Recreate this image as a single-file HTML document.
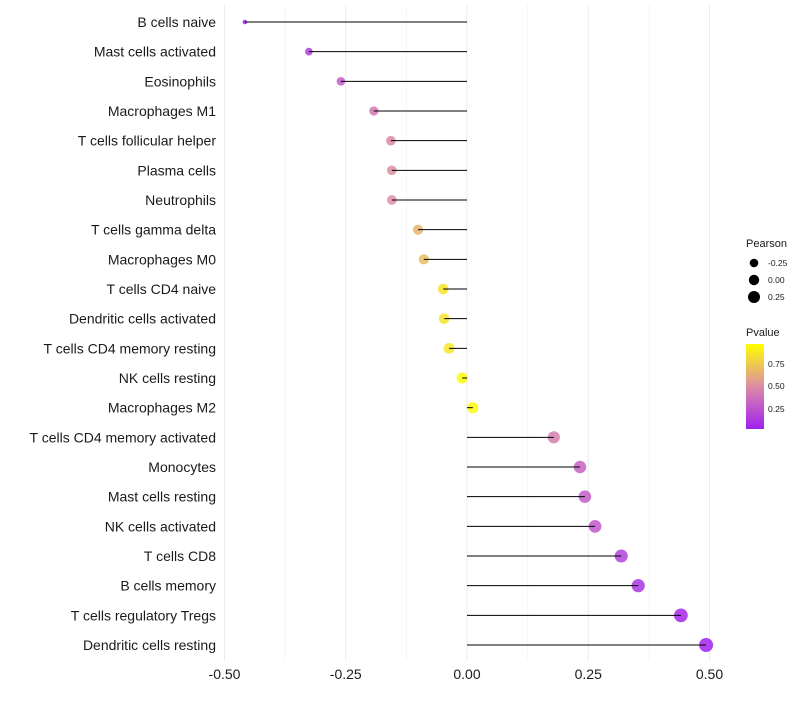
<!DOCTYPE html>
<html><head><meta charset="utf-8"><style>
body{margin:0;background:#fff;font-family:"Liberation Sans",sans-serif;}
</style></head><body>
<svg id="chart" width="800" height="700" xmlns="http://www.w3.org/2000/svg"></svg>
<script>
const categories=["B cells naive","Mast cells activated","Eosinophils","Macrophages M1","T cells follicular helper","Plasma cells","Neutrophils","T cells gamma delta","Macrophages M0","T cells CD4 naive","Dendritic cells activated","T cells CD4 memory resting","NK cells resting","Macrophages M2","T cells CD4 memory activated","Monocytes","Mast cells resting","NK cells activated","T cells CD8","B cells memory","T cells regulatory  Tregs ","Dendritic cells resting"];
const pearson=[-0.458,-0.326,-0.26,-0.192,-0.157,-0.155,-0.155,-0.101,-0.089,-0.049,-0.047,-0.037,-0.010,0.012,0.179,0.233,0.243,0.264,0.318,0.353,0.441,0.493];
const pvalues=[0.03,0.15,0.3,0.42,0.5,0.52,0.52,0.68,0.72,0.88,0.88,0.9,0.98,0.98,0.45,0.32,0.3,0.27,0.17,0.12,0.05,0.03];
const xTicks=[-0.5,-0.25,0,0.25,0.5];
const xTickLabels=["-0.50","-0.25","0.00","0.25","0.50"];
const NS="http://www.w3.org/2000/svg";
const svg=document.getElementById('chart');
const X=v=>467+v*485;
const Y=i=>22+i*(623/21);
function mk(t,a,p){const e=document.createElementNS(NS,t);for(const k in a)e.setAttribute(k,a[k]);(p||svg).appendChild(e);return e;}
function lerp(a,b,t){return a.map((v,i)=>Math.round(v+(b[i]-v)*t));}
function pcol(p){const t=Math.max(0,Math.min(1,(p-0.02)/0.98));const A=[160,32,240],M=[220,140,165],B=[255,255,0];
const c=t<0.5?lerp(A,M,t/0.5):lerp(M,B,(t-0.5)/0.5);return `rgb(${c[0]},${c[1]},${c[2]})`;}
for(let v=-0.5;v<=0.5001;v+=0.125){
  const major=Math.abs((v/0.25)-Math.round(v/0.25))<1e-6;
  const g=mk('line',{x1:X(v),x2:X(v),y1:5,y2:660,stroke:major?'#ebebeb':'#f5f5f5','stroke-width':1});
  
  
}
xTicks.forEach((v,i)=>{
  const t=mk('text',{x:X(v),y:679,'font-size':14,'text-anchor':'middle',fill:'#1a1a1a'});
  t.textContent=xTickLabels[i];
  
  
});
categories.forEach((c,i)=>{
  const y=Y(i);
  const t=mk('text',{x:216,y:y+5,'font-size':14,'text-anchor':'end',fill:'#1a1a1a'});
  t.textContent=c;
  
  
  const r=2+5*Math.sqrt(Math.max(0,(pearson[i]+0.46)/0.95));
  const pt=mk('circle',{cx:X(pearson[i]),cy:y,r:r,fill:pcol(pvalues[i]),'fill-opacity':0.85});
  
  
  const s=mk('line',{x1:X(0),x2:X(pearson[i]),y1:y,y2:y,stroke:'#000','stroke-width':1});
  
  
});
const lt=mk('text',{x:746,y:247,'font-size':11,fill:'#1a1a1a'});lt.textContent='Pearson';


[["-0.25",263,4.3],["0.00",280,5.2],["0.25",297,6]].forEach(d=>{
  const c=mk('circle',{cx:754,cy:d[1],r:d[2],fill:'#000'});
  
  
  const t=mk('text',{x:768,y:d[1]+3,'font-size':8.5,fill:'#1a1a1a'});t.textContent=d[0];
  
  
});
const pt2=mk('text',{x:746,y:336,'font-size':11,fill:'#1a1a1a'});pt2.textContent='Pvalue';


const defs=mk('defs',{});
const lg=mk('linearGradient',{id:'pg',x1:0,y1:1,x2:0,y2:0},defs);
[0,0.25,0.5,0.75,1].forEach(o=>mk('stop',{offset:o,'stop-color':pcol(0.02+o*0.98)},lg));
const bar=mk('rect',{x:746,y:344,width:18,height:85,fill:'url(#pg)'});


[["0.75",364],["0.50",386],["0.25",409]].forEach(d=>{
  const t=mk('text',{x:768,y:d[1]+3,'font-size':8.5,fill:'#1a1a1a'});t.textContent=d[0];
  
  
});
</script>
</body></html>
